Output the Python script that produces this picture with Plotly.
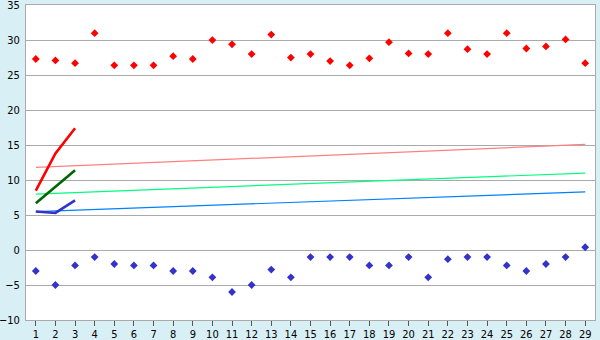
import plotly.graph_objects as go

x_cats = list(range(1, 30))

red_points = [27.3, 27.1, 26.7, 31.0, 26.4, 26.4, 26.4, 27.7, 27.3, 30.0,
              29.4, 28.0, 30.8, 27.5, 28.0, 27.0, 26.4, 27.4, 29.7, 28.1,
              28.0, 31.0, 28.7, 28.0, 31.0, 28.8, 29.1, 30.1, 26.7]
blue_points = [-3.0, -5.0, -2.2, -1.0, -2.0, -2.2, -2.2, -3.0, -3.0, -3.9,
               -6.0, -5.0, -2.8, -3.9, -1.0, -1.0, -1.0, -2.2, -2.2, -1.0,
               -3.9, -1.3, -1.0, -1.0, -2.2, -3.0, -2.0, -1.0, 0.4]

short_x = [1, 2, 3]
short_red = [8.5, 13.8, 17.4]
short_green = [6.7, 9.0, 11.4]
short_blue = [5.5, 5.3, 7.1]

trend_x = [1, 29]
trend_red = [11.8, 15.1]
trend_green = [8.0, 11.0]
trend_blue = [5.5, 8.3]

y_ticks = [-10, -5, 0, 5, 10, 15, 20, 25, 30, 35]

fig = go.Figure()

fig.add_trace(go.Scatter(x=trend_x, y=trend_red, mode="lines",
                         line=dict(color="#FF8080", width=1.2)))
fig.add_trace(go.Scatter(x=trend_x, y=trend_green, mode="lines",
                         line=dict(color="#00FF80", width=1.2)))
fig.add_trace(go.Scatter(x=trend_x, y=trend_blue, mode="lines",
                         line=dict(color="#0080FF", width=1.2)))

fig.add_trace(go.Scatter(x=short_x, y=short_red, mode="lines",
                         line=dict(color="#FF0000", width=2.6)))
fig.add_trace(go.Scatter(x=short_x, y=short_green, mode="lines",
                         line=dict(color="#006600", width=2.6)))
fig.add_trace(go.Scatter(x=short_x, y=short_blue, mode="lines",
                         line=dict(color="#3333CC", width=2.6)))

fig.add_trace(go.Scatter(x=x_cats, y=red_points, mode="markers",
                         marker=dict(symbol="diamond", size=6, color="#FF0000")))
fig.add_trace(go.Scatter(x=x_cats, y=blue_points, mode="markers",
                         marker=dict(symbol="diamond", size=6, color="#3333CC")))

fig.update_layout(
    template="none",
    width=600, height=340,
    margin=dict(l=26, r=5, t=5, b=20, autoexpand=False),
    paper_bgcolor="#D8EFF5",
    plot_bgcolor="#FFFFFF",
    showlegend=False,
    font=dict(family="DejaVu Sans Condensed, DejaVu Sans", size=11, color="#000000"),
)
fig.update_xaxes(
    automargin=False, ticklabeloverflow="allow",
    range=[0.5, 29.5], tickmode="array", tickvals=x_cats,
    ticktext=[str(v) for v in x_cats],
    showgrid=False, zeroline=False,
    showline=True, linecolor="#AAAAAA", linewidth=1, mirror=True,
    ticks="outside", ticklen=5, tickcolor="#555555", tickwidth=1,
    ticklabelstandoff=-1,
)
fig.update_yaxes(
    automargin=False, ticklabeloverflow="allow",
    range=[-10, 35.02], tickmode="array", tickvals=y_ticks,
    ticktext=[str(v) if v >= 0 else "\u2212" + str(-v) for v in y_ticks],
    showgrid=True, gridcolor="#AAAAAA", gridwidth=1, zeroline=False,
    showline=True, linecolor="#AAAAAA", linewidth=1, mirror=True,
    ticks="", ticklabelstandoff=3,
)

fig.write_html("out.html")
